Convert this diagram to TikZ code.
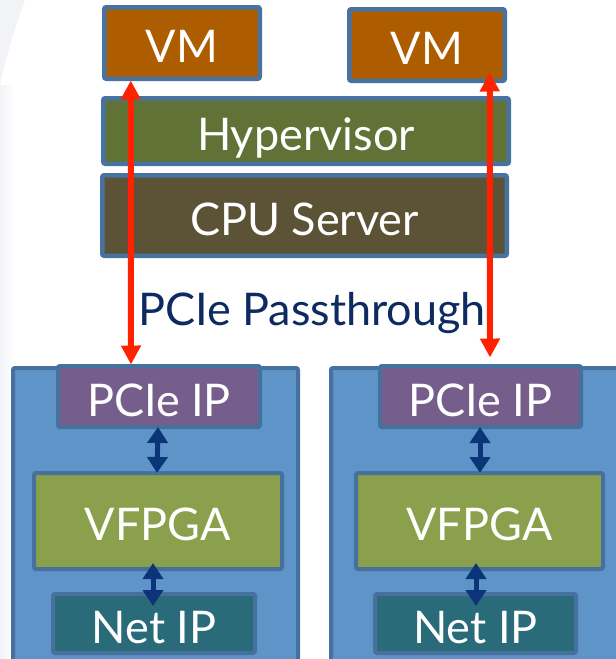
\documentclass[tikz,border=0pt]{standalone}
\usepackage{fontspec}
\setmainfont{Lato}
\usetikzlibrary{arrows.meta,calc}

\definecolor{edgeblue}{HTML}{4872A0}
\definecolor{vmfill}{HTML}{AE5C00}
\definecolor{hypfill}{HTML}{617236}
\definecolor{cpufill}{HTML}{5C5337}
\definecolor{cardfill}{HTML}{5F94C8}
\definecolor{cardedge}{HTML}{46709E}
\definecolor{pciefill}{HTML}{765E8C}
\definecolor{fpgafill}{HTML}{8BA04C}
\definecolor{netfill}{HTML}{2A6B79}
\definecolor{linkblue}{HTML}{0B3479}
\definecolor{passred}{HTML}{FF2200}
\definecolor{labelblue}{HTML}{0D2B62}
\definecolor{haze}{HTML}{F1F3F7}

\tikzset{
  layer/.style={draw=edgeblue, line width=4.5pt, rounded corners=2pt,
    text=white, font=\fontsize{45}{45}\selectfont, inner sep=0pt,
    text height=39pt, text depth=0pt},
  card/.style={draw=cardedge, line width=4pt, rounded corners=2pt,
    fill=cardfill, inner sep=0pt},
  block/.style={draw=cardedge, line width=4pt, rounded corners=2pt,
    text=white, font=\fontsize{45}{45}\selectfont, inner sep=0pt,
    text height=39pt, text depth=0pt},
  pass/.style={draw=passred, line width=6pt,
    {Triangle[length=19pt,width=19pt]}-{Triangle[length=19pt,width=19pt]}},
  link/.style={draw=linkblue, line width=5pt,
    {Triangle[length=16pt,width=20pt]}-{Triangle[length=16pt,width=20pt]}}
}

\begin{document}
\begin{tikzpicture}[x=1pt,y=-1pt]
  \useasboundingbox (0,0) rectangle (616,659);
  \fill[white] (0,0) rectangle (616,659);
  % faint backdrop sweep on the left
  \fill[haze] (0,0) -- (25,0) .. controls (14,30) and (5,60) .. (0,85) -- cycle;
  \shade[left color=haze, right color=white] (0,85) rectangle (14,659);

  % host stack
  \node[layer, fill=vmfill, minimum width=155.5pt, minimum height=71.5pt]
    (vmL) at (182,43) {VM};
  \node[layer, fill=vmfill, minimum width=155.5pt, minimum height=71.5pt]
    (vmR) at (427,45) {VM};
  \node[layer, fill=hypfill, minimum width=405.5pt, minimum height=65.5pt]
    (hyp) at (306,131) {Hypervisor};
  \node[layer, fill=cpufill, minimum width=404.5pt, minimum height=80.5pt]
    (cpu) at (304.5,215.5) {CPU Server};

  % FPGA cards
  \node[card, minimum width=285pt, minimum height=300pt] (cardL) at (155.5,518) {};
  \node[card, minimum width=295pt, minimum height=300pt] (cardR) at (478.5,518) {};

  \node[block, fill=pciefill, minimum width=202pt, minimum height=61pt]
    (pcieL) at (159,396.5) {PCIe IP};
  \node[block, fill=fpgafill, minimum width=248pt, minimum height=96pt]
    (fpgaL) at (158,521) {VFPGA};
  \node[block, fill=netfill, minimum width=202pt, minimum height=59pt]
    (netL) at (154,623.5) {Net IP};

  \node[block, fill=pciefill, minimum width=201pt, minimum height=61pt]
    (pcieR) at (480.5,396.5) {PCIe IP};
  \node[block, fill=fpgafill, minimum width=247pt, minimum height=96pt]
    (fpgaR) at (479.5,521) {VFPGA};
  \node[block, fill=netfill, minimum width=201pt, minimum height=59pt]
    (netR) at (475.5,623.5) {Net IP};

  % on-card links
  \draw[link] ([xshift=-1pt,yshift=2pt]pcieL.south) -- ([xshift=-1pt,yshift=-2pt]fpgaL.north);
  \draw[link] ([xshift=-5pt,yshift=8pt]fpgaL.south) -- ([xshift=-1pt,yshift=-14pt]netL.north);
  \draw[link] ([xshift=-0.5pt,yshift=2pt]pcieR.south) -- ([xshift=0.5pt,yshift=-2pt]fpgaR.north);
  \draw[link] ([xshift=-3.5pt,yshift=8pt]fpgaR.south) -- ([xshift=0.5pt,yshift=-14pt]netR.north);

  % passthrough links
  \draw[pass] ([xshift=28.75pt,yshift=0.5pt]vmL.south west) -- ([xshift=75pt,yshift=-0.5pt]pcieL.north west);
  \draw[pass] ([xshift=142.75pt,yshift=10.5pt]vmR.south west) -- ([xshift=112pt,yshift=6.5pt]pcieR.north west);

  \node[text=labelblue, font=\fontsize{45}{45}\selectfont, anchor=base]
    (passlbl) at (312,325) {PCIe Passthrough};
\end{tikzpicture}
\end{document}
